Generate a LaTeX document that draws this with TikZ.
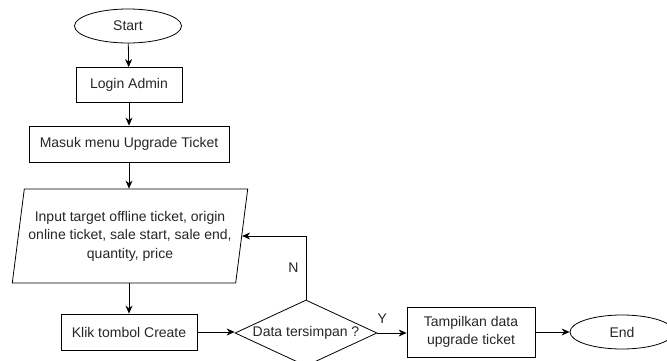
\documentclass[tikz,border=0pt]{standalone}
\usepackage{fontspec}
\setmainfont{Liberation Sans}
\usetikzlibrary{shapes.geometric,arrows.meta}
\begin{document}
\begin{tikzpicture}[x=1pt,y=-1pt,
  base/.style={draw=black, line width=0.8pt, text=black!85, font=\fontsize{14}{18.5}\selectfont, align=center, inner sep=0pt},
  procbox/.style={base, rectangle},
  term/.style={base, ellipse},
  iobox/.style={base, trapezium, trapezium left angle=77, trapezium right angle=103, trapezium stretches=true},
  decis/.style={base, diamond},
  arr/.style={draw=black, line width=0.8pt, -{Stealth[length=8pt,width=7pt]}},
  lbl/.style={font=\fontsize{14}{17}\selectfont, text=black!85, inner sep=0pt}
]
\useasboundingbox (0,0) rectangle (667,361);
\node[term, minimum width=107pt, minimum height=34pt] (start) at (128,26) {Start};
\node[procbox, minimum width=106pt, minimum height=35pt] (login) at (129,85) {Login Admin};
\node[procbox, minimum width=200pt, minimum height=36pt] (masuk) at (129,144) {Masuk menu Upgrade Ticket};
\node[iobox, minimum width=236pt, minimum height=94pt] (inp) at (130,236) {Input target offline ticket, origin\\online ticket, sale start, sale end,\\quantity, price};
\node[procbox, minimum width=136pt, minimum height=36pt] (klik) at (129,332) {Klik tombol Create};
\node[decis, minimum width=142pt, minimum height=66pt] (dia) at (306,333) {\makebox[0pt]{Data tersimpan ?}};
\node[procbox, minimum width=128pt, minimum height=50pt] (tamp) at (471,332) {Tampilkan data\\upgrade ticket};
\node[term, minimum width=104pt, minimum height=34pt] (end) at (622,332) {End};

\draw[arr] (start) -- (login);
\draw[arr] (login) -- (masuk);
\draw[arr] (masuk.south) -- (masuk.south |- inp.north);
\draw[arr] (klik.north |- inp.south) -- (klik.north);
\draw[arr] (klik.east) -- (klik.east -| dia.west);
\draw[arr] (dia.east) -- node[lbl, pos=0.17, anchor=south, yshift=9pt] {Y} (dia.east -| tamp.west);
\draw[arr] (tamp.east) -- (tamp.east -| end.west);
\draw[arr] (dia.north) |- node[lbl, pos=0.25, left=7pt] {N} (inp.east);
\end{tikzpicture}
\end{document}
